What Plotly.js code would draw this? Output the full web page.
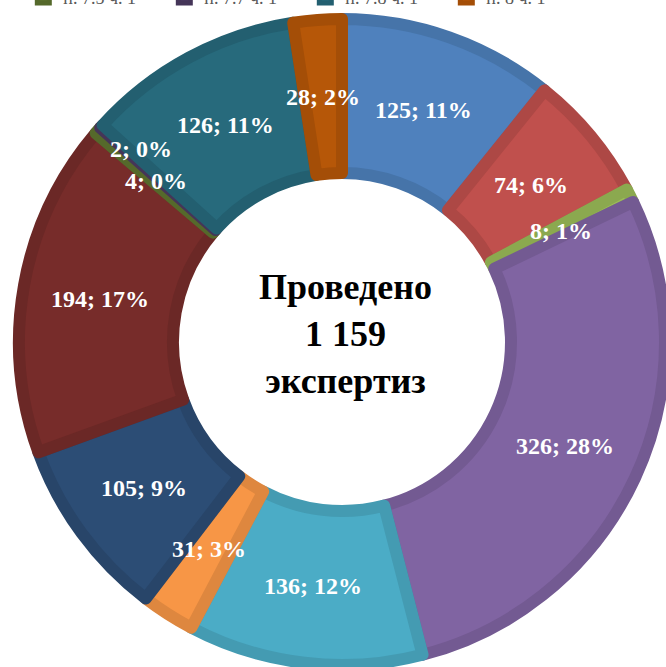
<!DOCTYPE html>
<html>
<head>
<meta charset="utf-8">
<script src="https://cdn.plot.ly/plotly-3.0.1.min.js"></script>
<style>
  html, body { margin: 0; padding: 0; overflow: hidden; background: #fff; }
  #chart { width: 666px; height: 667px; }
</style>
</head>
<body>
<div id="chart"></div>
<script>
var labels = ["п. 1 ч. 1", "п. 2 ч. 1", "п. 3 ч. 1", "п. 4 ч. 1", "п. 5 ч. 1", "п. 6 ч. 1",
              "п. 7.1 ч. 1", "п. 7.2 ч. 1", "п. 7.5 ч. 1", "п. 7.7 ч. 1", "п. 7.8 ч. 1", "п. 8 ч. 1"];
var values = [125, 74, 8, 326, 136, 31, 105, 194, 4, 2, 126, 28];
var fillColors = ["#4f81bd", "#c0504d", "#9bbb59", "#8064a2", "#4bacc6", "#f79646",
                  "#2c4d75", "#772c2a", "#5f7530", "#4d3b62", "#276a7c", "#b65708"];
var edgeColors = ["#4674a9", "#ad4845", "#8ba94f", "#735a92", "#449bb2", "#de873f",
                  "#284569", "#6b2826", "#55692b", "#453558", "#235f70", "#a44e07"];
var centerText = "Проведено<br>1 159<br>экспертиз";

var W = 666, H = 667;
var cx = 342, cy = 342;          // centre in page pixels (from top)
var outerR = 329, innerR = 163;  // visible ring radii
var edge = 12;                   // slice border width
var pathR = outerR - edge / 2;
var hole = (innerR + edge / 2) / pathR;

var total = values.reduce(function (a, b) { return a + b; }, 0);

// data labels placed at the middle of each slice
var annotations = [];
var placed = [];
var cum = 0;
var midR = (outerR + innerR) / 2;
values.forEach(function (v, i) {
  var ang = (cum + v / 2) / total * 2 * Math.PI;
  cum += v;
  var px = cx + midR * Math.sin(ang);
  var py = cy - midR * Math.cos(ang);
  placed.forEach(function (p) {
    if (Math.abs(p[0] - px) < 80 && Math.abs(p[1] - py) < 26) { py = p[1] - 32; px -= 18; }
  });
  placed.push([px, py]);
  annotations.push({
    x: px / W, y: 1 - py / H, xref: "paper", yref: "paper",
    xanchor: "center", yanchor: "middle",
    text: v + "; " + Math.round(v / total * 100) + "%",
    showarrow: false,
    font: { family: "Liberation Serif", size: 24, color: "#ffffff", weight: "bold" }
  });
});

annotations.push({
  x: (cx + 4) / W, y: 1 - (cy - 8) / H, xref: "paper", yref: "paper",
  xanchor: "center", yanchor: "middle",
  text: "<b>" + centerText + "</b>",
  showarrow: false,
  font: { family: "Liberation Serif", size: 36, color: "#000000" }
});

var data = [{
  type: "pie",
  labels: labels,
  values: values,
  hole: hole,
  sort: false,
  direction: "clockwise",
  rotation: 0,
  textinfo: "none",
  hoverinfo: "label+value+percent",
  marker: { colors: fillColors, line: { color: edgeColors, width: edge } },
  domain: {
    x: [(cx - pathR) / W, (cx + pathR) / W],
    y: [(H - cy - pathR) / H, (H - cy + pathR) / H]
  }
}];

var layout = {
  width: W,
  height: H,
  margin: { l: 0, r: 0, t: 0, b: 0, autoexpand: false },
  paper_bgcolor: "#ffffff",
  showlegend: true,
  legend: {
    orientation: "h",
    x: 0.035, xanchor: "left",
    y: 0.976, yanchor: "bottom",
    entrywidth: 96,
    bgcolor: "rgba(0,0,0,0)",
    font: { family: "Liberation Serif", size: 18, color: "#595959" }
  },
  annotations: annotations
};

Plotly.newPlot("chart", data, layout, { displayModeBar: false, staticPlot: true });
</script>
</body>
</html>
